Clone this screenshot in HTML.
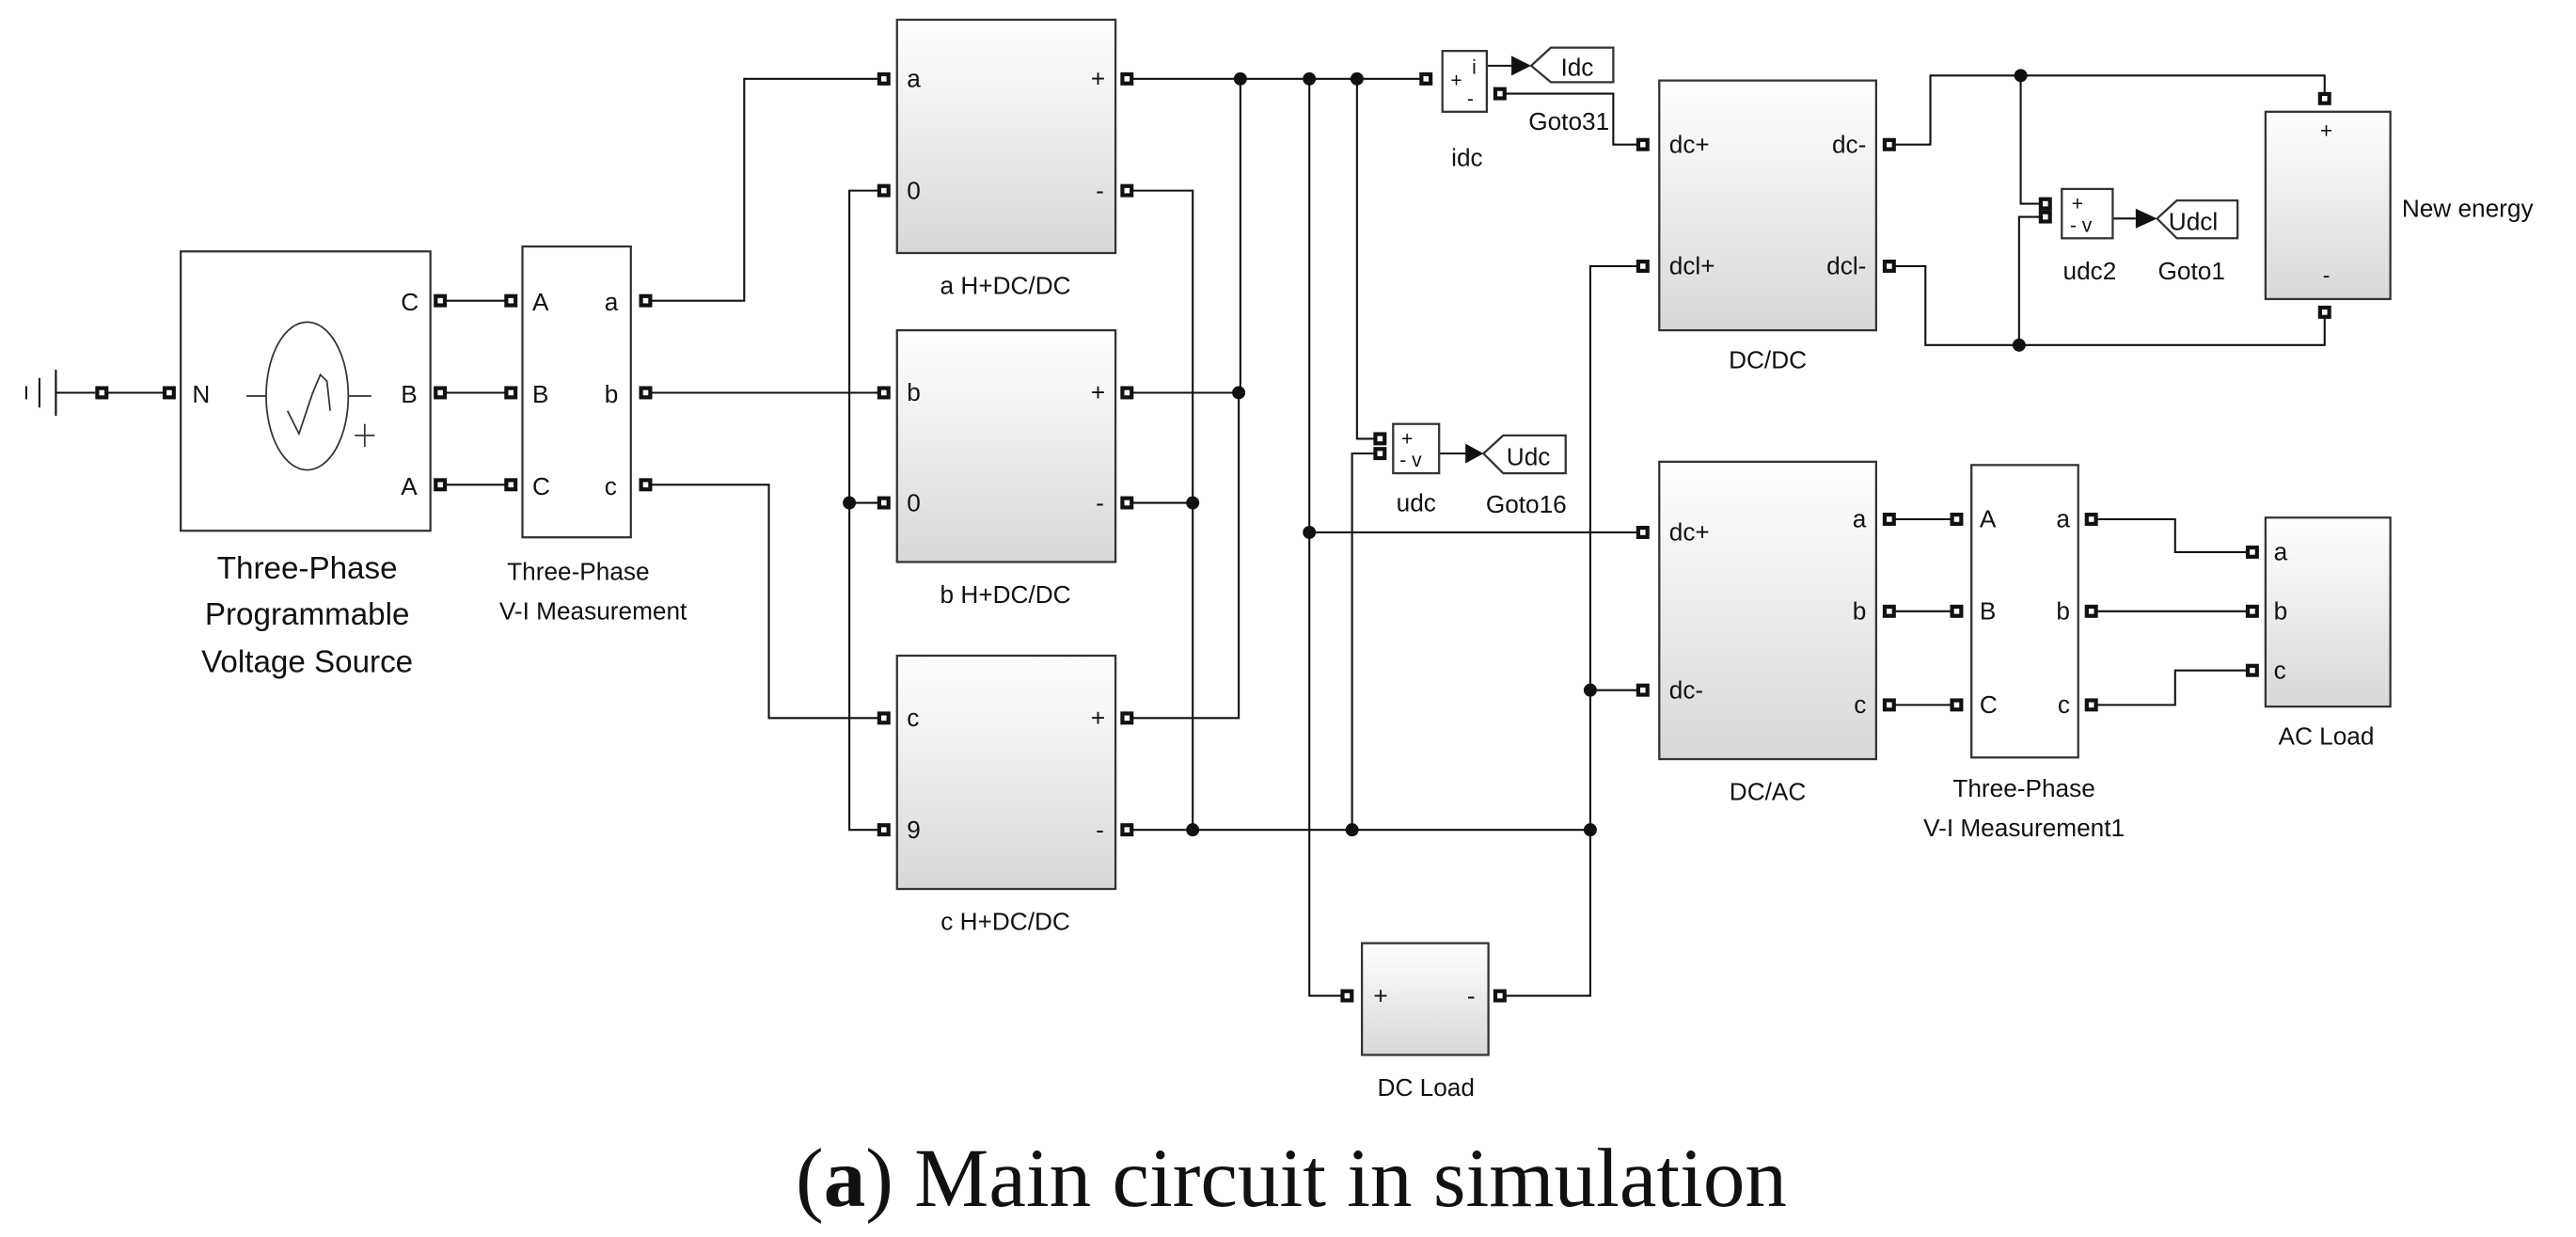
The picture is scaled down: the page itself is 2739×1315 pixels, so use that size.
<!DOCTYPE html>
<html><head><meta charset="utf-8"><style>
html,body{margin:0;padding:0;background:#fff;width:2739px;height:1315px;overflow:hidden}
svg{display:block}
text{font-family:"Liberation Sans",sans-serif;fill:#111}
</style></head><body>
<svg width="2739" height="1315" viewBox="0 0 1568 752.8" preserveAspectRatio="none" xmlns="http://www.w3.org/2000/svg">
<defs>
<linearGradient id="g" x1="0" y1="0" x2="0" y2="1"><stop offset="0" stop-color="#fff"/><stop offset="1" stop-color="#d8d8d8"/></linearGradient>
<g id="p"><rect x="-4" y="-4" width="8" height="8" fill="#111"/><rect x="-1.6" y="-1.6" width="3.2" height="3.2" fill="#fff"/></g>
<g id="d"><circle r="4" fill="#111"/></g>
</defs>
<g fill="none" stroke="#111" stroke-width="1.2">
<line x1="16" y1="235" x2="16" y2="243"/><line x1="24" y1="230" x2="24" y2="248"/><line x1="34" y1="225" x2="34" y2="253"/>
<line x1="34" y1="239" x2="58" y2="239"/><line x1="62" y1="239" x2="103" y2="239"/>
<line x1="268" y1="183" x2="311" y2="183"/><line x1="268" y1="239" x2="311" y2="239"/><line x1="268" y1="295" x2="311" y2="295"/>
<polyline points="393,183 453,183 453,48 538,48"/>
<line x1="393" y1="239" x2="538" y2="239"/>
<polyline points="393,295 468,295 468,437 538,437"/>
<polyline points="538,116 517,116 517,505 538,505"/><line x1="517" y1="306" x2="538" y2="306"/>
<line x1="686" y1="48" x2="868" y2="48"/>
<polyline points="755,48 755,239 754,239 754,437 686,437"/><line x1="686" y1="239" x2="754" y2="239"/>
<polyline points="686,116 726,116 726,505"/><line x1="686" y1="306" x2="726" y2="306"/>
<line x1="686" y1="505" x2="968" y2="505"/>
<polyline points="797,48 797,606 820,606"/><line x1="797" y1="324" x2="1000" y2="324"/>
<polyline points="826,48 826,267 840,267"/>
<polyline points="840,276 823,276 823,505"/>
<polyline points="913,606 968,606 968,162 1000,162"/><line x1="968" y1="420" x2="1000" y2="420"/>
<polyline points="913,57 982,57 982,88 1000,88"/>
<polyline points="1150,88 1175,88 1175,46 1415,46 1415,60"/>
<polyline points="1230,46 1230,124 1245,124"/>
<polyline points="1150,162 1172,162 1172,210 1415,210 1415,190"/>
<polyline points="1229,210 1229,132 1245,132"/>
<line x1="1150" y1="316" x2="1191" y2="316"/><line x1="1150" y1="372" x2="1191" y2="372"/><line x1="1150" y1="429" x2="1191" y2="429"/>
<polyline points="1273,316 1324,316 1324,336 1371,336"/><line x1="1273" y1="372" x2="1371" y2="372"/>
<polyline points="1273,429 1324,429 1324,408 1371,408"/>
<line x1="905" y1="40" x2="920" y2="40"/><line x1="876" y1="276" x2="892" y2="276"/><line x1="1286" y1="133" x2="1300" y2="133"/>
</g>
<g stroke="#333" stroke-width="1.3">
<rect x="110" y="153" width="152" height="170" fill="#fff"/>
<rect x="318" y="150" width="66" height="177" fill="#fff"/>
<rect x="546" y="12" width="133" height="142" fill="url(#g)"/>
<rect x="546" y="201" width="133" height="141" fill="url(#g)"/>
<rect x="546" y="399" width="133" height="142" fill="url(#g)"/>
<rect x="1010" y="49" width="132" height="152" fill="url(#g)"/>
<rect x="1010" y="281" width="132" height="181" fill="url(#g)"/>
<rect x="1200" y="283" width="65" height="178" fill="#fff"/>
<rect x="1379" y="68" width="76" height="114" fill="url(#g)"/>
<rect x="1379" y="315" width="76" height="115" fill="url(#g)"/>
<rect x="829" y="574" width="77" height="68" fill="url(#g)"/>
<rect x="878" y="31" width="27" height="37" fill="#fff"/>
<rect x="848" y="258" width="28" height="30" fill="#fff"/>
<rect x="1255" y="115" width="31" height="30" fill="#fff"/>
<polygon points="932,40 944,29 982,29 982,50 944,50" fill="#fff"/>
<polygon points="903,276 915,265 953,265 953,288 915,288" fill="#fff"/>
<polygon points="1313,133 1325,122 1362,122 1362,145 1325,145" fill="#fff"/>
</g>
<polygon points="920,34 932,40 920,46" fill="#111"/>
<polygon points="892,270 903,276 892,282" fill="#111"/>
<polygon points="1300,127 1313,133 1300,139" fill="#111"/>
<g fill="none" stroke="#333" stroke-width="1">
<ellipse cx="187" cy="241" rx="25" ry="45"/>
<line x1="150" y1="241" x2="162" y2="241"/><line x1="212" y1="241" x2="226" y2="241"/>
<path d="M175,250 L182,264 L190,240 L195,228 L199,232 L201,250"/>
<line x1="222" y1="258" x2="222" y2="272"/><line x1="216" y1="265" x2="228" y2="265"/>
</g>
<g>
<use href="#p" x="62" y="239"/><use href="#p" x="103" y="239"/>
<use href="#p" x="268" y="183"/><use href="#p" x="268" y="239"/><use href="#p" x="268" y="295"/>
<use href="#p" x="311" y="183"/><use href="#p" x="311" y="239"/><use href="#p" x="311" y="295"/>
<use href="#p" x="393" y="183"/><use href="#p" x="393" y="239"/><use href="#p" x="393" y="295"/>
<use href="#p" x="538" y="48"/><use href="#p" x="538" y="116"/><use href="#p" x="686" y="48"/><use href="#p" x="686" y="116"/>
<use href="#p" x="538" y="239"/><use href="#p" x="538" y="306"/><use href="#p" x="686" y="239"/><use href="#p" x="686" y="306"/>
<use href="#p" x="538" y="437"/><use href="#p" x="538" y="505"/><use href="#p" x="686" y="437"/><use href="#p" x="686" y="505"/>
<use href="#p" x="868" y="48"/><use href="#p" x="913" y="57"/>
<use href="#p" x="840" y="267"/><use href="#p" x="840" y="276"/>
<use href="#p" x="1245" y="124"/><use href="#p" x="1245" y="132"/>
<use href="#p" x="1000" y="88"/><use href="#p" x="1000" y="162"/><use href="#p" x="1150" y="88"/><use href="#p" x="1150" y="162"/>
<use href="#p" x="1000" y="324"/><use href="#p" x="1000" y="420"/>
<use href="#p" x="1150" y="316"/><use href="#p" x="1150" y="372"/><use href="#p" x="1150" y="429"/>
<use href="#p" x="1191" y="316"/><use href="#p" x="1191" y="372"/><use href="#p" x="1191" y="429"/>
<use href="#p" x="1273" y="316"/><use href="#p" x="1273" y="372"/><use href="#p" x="1273" y="429"/>
<use href="#p" x="1371" y="336"/><use href="#p" x="1371" y="372"/><use href="#p" x="1371" y="408"/>
<use href="#p" x="1415" y="60"/><use href="#p" x="1415" y="190"/>
<use href="#p" x="820" y="606"/><use href="#p" x="913" y="606"/>
</g>
<g>
<use href="#d" x="755" y="48"/><use href="#d" x="797" y="48"/><use href="#d" x="826" y="48"/>
<use href="#d" x="754" y="239"/><use href="#d" x="517" y="306"/><use href="#d" x="726" y="306"/><use href="#d" x="726" y="505"/>
<use href="#d" x="823" y="505"/><use href="#d" x="968" y="505"/><use href="#d" x="968" y="420"/><use href="#d" x="797" y="324"/>
<use href="#d" x="1230" y="46"/><use href="#d" x="1229" y="210"/>
</g>
<g font-size="15">
<text x="117" y="245">N</text>
<text x="244" y="189">C</text><text x="244" y="245">B</text><text x="244" y="301">A</text>
<text x="324" y="189">A</text><text x="324" y="245">B</text><text x="324" y="301">C</text>
<text x="368" y="189">a</text><text x="368" y="245">b</text><text x="368" y="301">c</text>
<text x="552" y="53">a</text><text x="552" y="121">0</text><text x="664" y="53">+</text><text x="667" y="121">-</text>
<text x="552" y="244">b</text><text x="552" y="311">0</text><text x="664" y="244">+</text><text x="667" y="311">-</text>
<text x="552" y="442">c</text><text x="552" y="510">9</text><text x="664" y="442">+</text><text x="667" y="510">-</text>
<text x="1016" y="93">dc+</text><text x="1016" y="167">dcl+</text>
<text x="1136" y="93" text-anchor="end">dc-</text><text x="1136" y="167" text-anchor="end">dcl-</text>
<text x="1016" y="329">dc+</text><text x="1016" y="425">dc-</text>
<text x="1136" y="321" text-anchor="end">a</text><text x="1136" y="377" text-anchor="end">b</text><text x="1136" y="434" text-anchor="end">c</text>
<text x="1205" y="321">A</text><text x="1205" y="377">B</text><text x="1205" y="434">C</text>
<text x="1260" y="321" text-anchor="end">a</text><text x="1260" y="377" text-anchor="end">b</text><text x="1260" y="434" text-anchor="end">c</text>
<text x="1384" y="341">a</text><text x="1384" y="377">b</text><text x="1384" y="413">c</text>
<text x="1416" y="84" text-anchor="middle" font-size="13">+</text><text x="1416" y="172" text-anchor="middle" font-size="13">-</text>
<text x="836" y="611">+</text><text x="893" y="611">-</text>
<text x="612" y="179" text-anchor="middle">a H+DC/DC</text>
<text x="612" y="367" text-anchor="middle">b H+DC/DC</text>
<text x="612" y="566" text-anchor="middle">c  H+DC/DC</text>
<text x="1076" y="224" text-anchor="middle">DC/DC</text>
<text x="1076" y="487" text-anchor="middle">DC/AC</text>
<text x="1232" y="485" text-anchor="middle">Three-Phase</text>
<text x="1232" y="509" text-anchor="middle">V-I Measurement1</text>
<text x="352" y="353" text-anchor="middle">Three-Phase</text>
<text x="361" y="377" text-anchor="middle">V-I Measurement</text>
<text x="1416" y="453" text-anchor="middle">AC Load</text>
<text x="868" y="667" text-anchor="middle">DC Load</text>
<text x="1462" y="132">New energy</text>
<text x="893" y="101" text-anchor="middle">idc</text>
<text x="955" y="79" text-anchor="middle">Goto31</text>
<text x="862" y="311" text-anchor="middle">udc</text>
<text x="929" y="312" text-anchor="middle">Goto16</text>
<text x="1272" y="170" text-anchor="middle">udc2</text>
<text x="1334" y="170" text-anchor="middle">Goto1</text>
<text x="950" y="46">Idc</text>
<text x="917" y="283">Udc</text>
<text x="1320" y="140">Udcl</text>
</g>
<g font-size="12">
<text x="883" y="53">+</text><text x="896" y="45">i</text><text x="893" y="64">-</text>
<text x="853" y="271">+</text><text x="852" y="284">- v</text>
<text x="1261" y="128">+</text><text x="1260" y="141">- v</text>
</g>
<g font-size="19" text-anchor="middle">
<text x="187" y="352">Three-Phase</text>
<text x="187" y="380">Programmable</text>
<text x="187" y="409">Voltage Source</text>
</g>
<text x="786" y="734" text-anchor="middle" font-size="51" style="font-family:'Liberation Serif',serif">(<tspan font-weight="bold">a</tspan>) Main circuit in simulation</text>
</svg>
</body></html>
